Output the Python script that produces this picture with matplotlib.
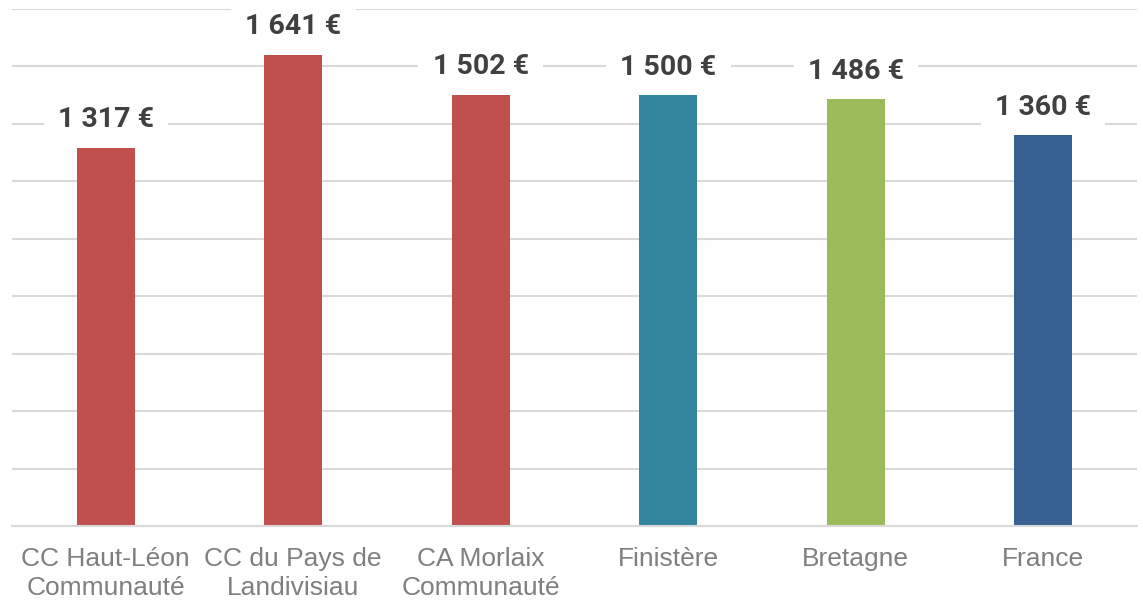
import matplotlib.pyplot as plt
import numpy as np

categories = ["CC Haut-Léon\nCommunauté", "CC du Pays de\nLandivisiau", "CA Morlaix\nCommunauté",
              "Finistère", "Bretagne", "France"]
values = [1317, 1641, 1502, 1500, 1486, 1360]
colors = ["#C0504D", "#C0504D", "#C0504D", "#31859C", "#9BBB59", "#366092"]

fig = plt.figure(figsize=(11.43, 6.01), dpi=100)
ax = fig.add_axes([12 / 1143, 75 / 601, 1125 / 1143, 517 / 601])

x = np.arange(len(categories))
ax.bar(x, values, width=0.31, color=colors, zorder=2)

ax.set_xlim(-0.5, len(categories) - 0.5)
ax.set_ylim(0, 1800)
ax.set_yticks(np.arange(0, 1801, 200))
ax.yaxis.grid(True, color="#d9d9d9", lw=1.5, zorder=0)
ax.set_axisbelow(True)
ax.tick_params(axis="y", left=False, labelleft=False)
ax.tick_params(axis="x", length=0, pad=15)
ax.set_xticks(x)
ax.set_xticklabels(categories, fontsize=19, color="#7f7f7f", family="Liberation Sans",
                   linespacing=1.28)
for s in ["top", "left", "right"]:
    ax.spines[s].set_visible(False)
ax.spines["bottom"].set_color("#d9d9d9")
ax.spines["bottom"].set_linewidth(1.5)

for xi, v in zip(x, values):
    lab = f"{v:,}".replace(",", " ") + " €"
    ax.annotate(lab, (xi, v), xytext=(0, 20), textcoords="offset points",
                ha="center", va="center", fontsize=20.5, fontweight="bold",
                family="Roboto", color="#404040", zorder=3,
                bbox=dict(boxstyle="square,pad=0.5", fc="white", ec="none"))

fig.savefig("out.png", dpi=100)
